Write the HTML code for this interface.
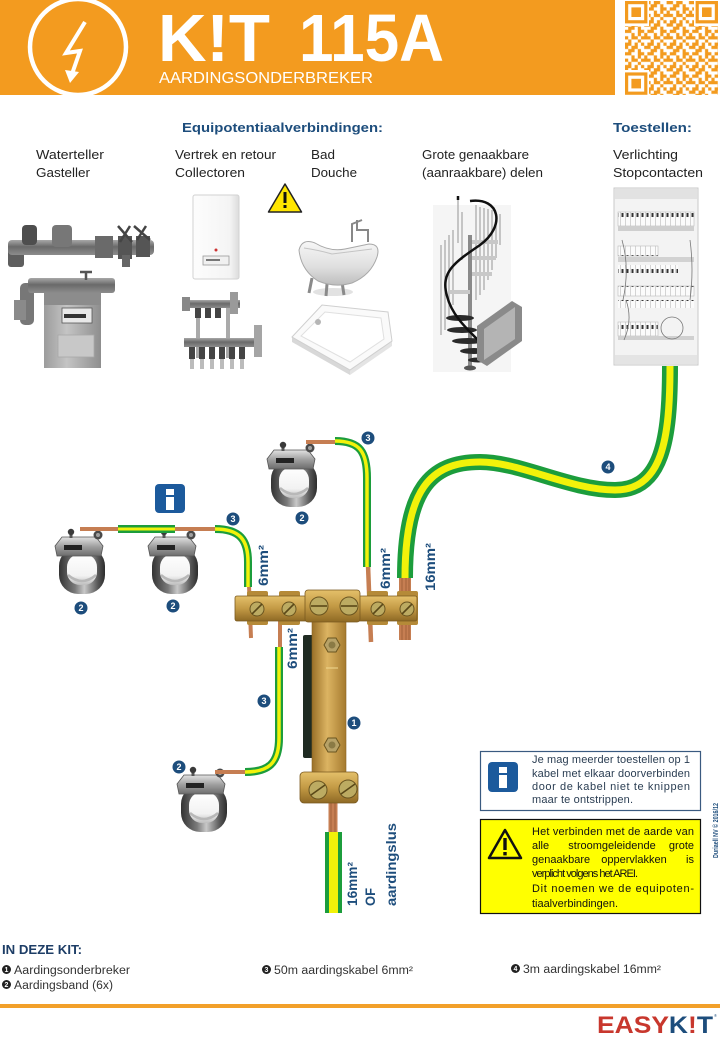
<!DOCTYPE html>
<html><head><meta charset="utf-8">
<style>
html,body{margin:0;padding:0;background:#fff;}
svg{display:block;}
text{font-family:"Liberation Sans",Arial,sans-serif;}
</style></head><body>
<svg width="720" height="1040" viewBox="0 0 720 1040" xmlns="http://www.w3.org/2000/svg">
<defs>
 <linearGradient id="pipeV" x1="0" y1="0" x2="0" y2="1"><stop offset="0" stop-color="#a8a8a8"/><stop offset="0.45" stop-color="#6a6a6a"/><stop offset="1" stop-color="#8c8c8c"/></linearGradient>
 <linearGradient id="gasBody" x1="0" y1="0" x2="1" y2="0"><stop offset="0" stop-color="#9c9c9c"/><stop offset="0.4" stop-color="#c4c4c4"/><stop offset="1" stop-color="#8e8e8e"/></linearGradient>
 <linearGradient id="boilerG" x1="0" y1="0" x2="1" y2="0"><stop offset="0" stop-color="#fdfdfd"/><stop offset="0.8" stop-color="#f4f4f4"/><stop offset="1" stop-color="#dcdcdc"/></linearGradient>
 <linearGradient id="bathG" x1="0" y1="0" x2="0" y2="1"><stop offset="0" stop-color="#f7f7f7"/><stop offset="0.6" stop-color="#dedede"/><stop offset="1" stop-color="#bdbdbd"/></linearGradient>
 <linearGradient id="ringG" x1="0" y1="0" x2="1" y2="0"><stop offset="0" stop-color="#333"/><stop offset="0.35" stop-color="#7a7a7a"/><stop offset="0.55" stop-color="#c8c8c8"/><stop offset="0.85" stop-color="#555"/><stop offset="1" stop-color="#2c2c2c"/></linearGradient>
 <linearGradient id="ringIn" x1="0" y1="0" x2="0" y2="1"><stop offset="0" stop-color="#ffffff"/><stop offset="0.7" stop-color="#f2f2f2"/><stop offset="1" stop-color="#bdbdbd"/></linearGradient>
 <linearGradient id="brG" x1="0" y1="0" x2="0" y2="1"><stop offset="0" stop-color="#e2e2e2"/><stop offset="0.5" stop-color="#a0a0a0"/><stop offset="1" stop-color="#6c6c6c"/></linearGradient>
 <linearGradient id="brassV" x1="0" y1="0" x2="0" y2="1"><stop offset="0" stop-color="#e4c06a"/><stop offset="0.5" stop-color="#c39a45"/><stop offset="1" stop-color="#8e6924"/></linearGradient>
 <linearGradient id="brassH" x1="0" y1="0" x2="1" y2="0"><stop offset="0" stop-color="#9a7028"/><stop offset="0.45" stop-color="#dcb462"/><stop offset="1" stop-color="#a57a2e"/></linearGradient>
 <pattern id="qr" width="7" height="7" patternUnits="userSpaceOnUse" patternTransform="translate(625 1) scale(3.2)">
  <path fill="#F39B1F" d="M0 0h1v1h-1z M2 0h2v1h-2z M6 0h1v1h-1z M1 1h2v1h-2z M4 1h1v1h-1z M0 2h2v1h-2z M4 2h2v1h-2z M2 3h1v1h-1z M4 3h1v1h-1z M6 3h1v1h-1z M0 4h1v1h-1z M2 4h2v1h-2z M5 4h2v1h-2z M1 5h1v1h-1z M4 5h1v1h-1z M0 6h2v1h-2z M3 6h1v1h-1z M5 6h1v1h-1z"/>
 </pattern>
 <pattern id="brk" width="5" height="14" patternUnits="userSpaceOnUse"><rect width="5" height="14" fill="#fbfbfb"/><rect x="1.5" y="3" width="2" height="4" fill="#333"/><rect x="0" y="0" width="0.6" height="14" fill="#bbb"/></pattern>
 <g id="clamp">
  <rect x="4" y="10" width="46" height="47" rx="19" fill="url(#ringG)"/>
  <rect x="12" y="17" width="30" height="31" rx="13" fill="url(#ringIn)"/>
  <path d="M13 38 Q27 50 41 38" stroke="#b8b8b8" stroke-width="2.5" fill="none"/>
  <path d="M0 9 L7 0 L41 0 L48 9 L46 19 L2 19 Z" fill="url(#brG)" stroke="#555" stroke-width="0.8"/>
  <rect x="9" y="8" width="18" height="5" fill="#222"/>
  <rect x="14.5" y="-5" width="3" height="6" fill="#555"/>
  <circle cx="16" cy="-5" r="3.2" fill="#3a3a3a"/>
  <circle cx="43" cy="-2" r="4.5" fill="#4a4a4a"/><circle cx="43" cy="-2" r="2" fill="#a0a0a0"/>
 </g>
</defs>

<!-- HEADER -->
<rect x="0" y="0" width="615" height="95" fill="#F39B1F"/>
<circle cx="78" cy="47" r="48" fill="none" stroke="#fff" stroke-width="4.5"/>
<path d="M85 22 L66 53 L80 51 L72 74" fill="none" stroke="#fff" stroke-width="4" stroke-linejoin="miter"/>
<polygon points="65,70 79,72 70,83" fill="#fff"/>
<text x="158" y="61" font-size="67" font-weight="bold" fill="#fff" textLength="112" lengthAdjust="spacingAndGlyphs">K!T</text>
<text x="299" y="61" font-size="67" font-weight="bold" fill="#fff" textLength="145" lengthAdjust="spacingAndGlyphs">115A</text>
<text x="159" y="83" font-size="15.5" fill="#fff" textLength="214" lengthAdjust="spacingAndGlyphs">AARDINGSONDERBREKER</text>
<!-- QR -->
<rect x="615" y="0" width="105" height="96" fill="#fff"/>
<rect x="625" y="1" width="93" height="94" fill="url(#qr)"/>
<g fill="#fff"><rect x="623" y="0" width="26" height="26"/><rect x="694" y="0" width="26" height="26"/><rect x="623" y="70" width="26" height="26"/></g>
<g fill="none" stroke="#F39B1F" stroke-width="3.2">
 <rect x="626.6" y="2.6" width="19.2" height="19.2"/><rect x="697.2" y="2.6" width="19.2" height="19.2"/><rect x="626.6" y="74" width="19.2" height="19.2"/>
</g>
<g fill="#F39B1F"><rect x="631.4" y="7.4" width="9.6" height="9.6"/><rect x="702" y="7.4" width="9.6" height="9.6"/><rect x="631.4" y="78.8" width="9.6" height="9.6"/></g>

<!-- HEADINGS -->
<text x="182" y="132" font-size="13" font-weight="bold" fill="#1d4d7c" textLength="201" lengthAdjust="spacingAndGlyphs">Equipotentiaalverbindingen:</text>
<text x="613" y="132" font-size="13" font-weight="bold" fill="#1d4d7c" textLength="79" lengthAdjust="spacingAndGlyphs">Toestellen:</text>
<g font-size="13" fill="#222">
 <text x="36" y="159" textLength="68" lengthAdjust="spacingAndGlyphs">Waterteller</text>
 <text x="36" y="177" textLength="54" lengthAdjust="spacingAndGlyphs">Gasteller</text>
 <text x="175" y="159" textLength="101" lengthAdjust="spacingAndGlyphs">Vertrek en retour</text>
 <text x="175" y="177" textLength="70" lengthAdjust="spacingAndGlyphs">Collectoren</text>
 <text x="311" y="159" textLength="24" lengthAdjust="spacingAndGlyphs">Bad</text>
 <text x="311" y="177" textLength="46" lengthAdjust="spacingAndGlyphs">Douche</text>
 <text x="422" y="159" textLength="107" lengthAdjust="spacingAndGlyphs">Grote genaakbare</text>
 <text x="422" y="177" textLength="121" lengthAdjust="spacingAndGlyphs">(aanraakbare) delen</text>
 <text x="613" y="159" textLength="65" lengthAdjust="spacingAndGlyphs">Verlichting</text>
 <text x="613" y="177" textLength="90" lengthAdjust="spacingAndGlyphs">Stopcontacten</text>
</g>

<!-- WATER METER -->
<rect x="8" y="248" width="16" height="19" rx="3" fill="#5e5e5e"/>
<rect x="8" y="240" width="146" height="15" rx="4" fill="url(#pipeV)"/>
<rect x="22" y="225" width="15" height="20" rx="4" fill="#4e4e4e"/>
<rect x="52" y="225" width="20" height="22" rx="4" fill="#777"/>
<rect x="95" y="236" width="18" height="22" fill="#6a6a6a"/>
<rect x="118" y="236" width="14" height="23" fill="#555"/>
<rect x="136" y="236" width="14" height="21" fill="#555"/>
<path d="M118 226 L132 242 M130 226 L120 242 M134 226 L150 240 M146 226 L137 240" stroke="#444" stroke-width="2.5"/>
<rect x="122" y="255" width="8" height="12" fill="#666"/>
<!-- GAS METER -->
<rect x="20" y="283" width="14" height="42" rx="5" fill="#777"/>
<rect x="14" y="300" width="12" height="20" fill="#8a8a8a"/>
<rect x="28" y="278" width="87" height="15" rx="3" fill="url(#pipeV)"/>
<path d="M80 272 L92 272 M86 272 L86 280" stroke="#555" stroke-width="2.5"/>
<rect x="44" y="293" width="57" height="75" fill="url(#gasBody)"/>
<rect x="44" y="293" width="57" height="12" fill="#8c8c8c"/>
<rect x="62" y="308" width="30" height="15" fill="#e8e8e8" stroke="#555" stroke-width="0.8"/>
<rect x="64" y="314" width="22" height="4" fill="#333"/>
<rect x="58" y="335" width="36" height="22" fill="#c8c8c8" stroke="#a8a8a8" stroke-width="0.8"/>
<!-- BOILER -->
<rect x="193" y="195" width="46" height="84" rx="2" fill="url(#boilerG)" stroke="#d2d2d2"/>
<rect x="203" y="256" width="26" height="9" fill="#f0f0f0" stroke="#999" stroke-width="0.8"/>
<rect x="206" y="259" width="14" height="2" fill="#777"/>
<circle cx="216" cy="250" r="1.5" fill="#c33"/>
<!-- WARNING TRIANGLE TOP -->
<polygon points="285,184 268.5,212 301.5,212" fill="#FFE600" stroke="#222" stroke-width="1.5" stroke-linejoin="round"/>
<rect x="283.5" y="192" width="3" height="11" fill="#111"/><rect x="283.5" y="205" width="3" height="3" fill="#111"/>
<!-- MANIFOLD -->
<rect x="196" y="306" width="4" height="52" fill="#aaa"/>
<rect x="226" y="306" width="4" height="52" fill="#aaa"/>
<rect x="184" y="300" width="56" height="8" fill="url(#pipeV)"/>
<rect x="182" y="297" width="8" height="14" fill="#888"/>
<rect x="230" y="292" width="8" height="22" fill="#9a9a9a"/>
<g fill="#444"><rect x="195" y="308" width="6" height="10"/><rect x="205" y="308" width="6" height="10"/><rect x="215" y="308" width="6" height="10"/></g>
<rect x="184" y="338" width="72" height="9" fill="url(#pipeV)"/>
<rect x="254" y="325" width="8" height="32" fill="#a5a5a5"/>
<g fill="#444"><rect x="189" y="347" width="6" height="12"/><rect x="199" y="347" width="6" height="12"/><rect x="209" y="347" width="6" height="12"/><rect x="219" y="347" width="6" height="12"/><rect x="229" y="347" width="6" height="12"/><rect x="239" y="347" width="6" height="12"/></g>
<g fill="#bbb"><rect x="190" y="359" width="4" height="10"/><rect x="200" y="359" width="4" height="10"/><rect x="210" y="359" width="4" height="10"/><rect x="220" y="359" width="4" height="10"/><rect x="230" y="359" width="4" height="10"/><rect x="240" y="359" width="4" height="10"/></g>
<!-- BATH -->
<path d="M352 242 L352 224 L362 220 M357 220 L357 230 L368 230 L368 242" stroke="#888" stroke-width="2" fill="none"/>
<ellipse cx="333" cy="292" rx="20" ry="4" fill="#e2e2e2"/>
<path d="M312 278 L309 293 M342 282 L344 295 M327 284 L326 296" stroke="#8a8a8a" stroke-width="3"/>
<path d="M299 250 Q302 238 315 243 Q330 252 345 249 L369 244 Q381 244 377 257 Q371 275 352 283 Q335 288 318 281 Q301 270 299 250 Z" fill="url(#bathG)" stroke="#a8a8a8"/>
<path d="M304 248 Q318 250 332 254 L372 249" stroke="#c4c4c4" fill="none"/>
<!-- SHOWER TRAY -->
<polygon points="292,337 350,370 350,375 292,342" fill="#d8d8d8"/>
<polygon points="350,370 392,341 392,346 350,375" fill="#e4e4e4"/>
<polygon points="292,337 322,305 388,312 392,341 350,370" fill="#fafafa" stroke="#cfcfcf"/>
<polygon points="301,336 325,312 381,318 384,339 350,362" fill="#fff" stroke="#e0e0e0"/>
<circle cx="318" cy="322" r="3" fill="#b5b5b5"/>
<!-- STAIRCASE -->
<rect x="433" y="205" width="78" height="167" fill="#f5f5f5"/>
<g stroke="#a5a5a5" stroke-width="1.2">
 <line x1="441" y1="245" x2="441" y2="335"/><line x1="445" y1="240" x2="445" y2="330"/><line x1="449" y1="235" x2="449" y2="320"/><line x1="453" y1="230" x2="453" y2="305"/>
 <line x1="458" y1="200" x2="458" y2="243"/><line x1="462" y1="212" x2="462" y2="260"/>
 <line x1="476" y1="205" x2="476" y2="300"/><line x1="480" y1="207" x2="480" y2="295"/><line x1="484" y1="208" x2="484" y2="290"/><line x1="488" y1="209" x2="488" y2="280"/><line x1="492" y1="210" x2="492" y2="270"/><line x1="496" y1="212" x2="496" y2="258"/><line x1="500" y1="214" x2="500" y2="245"/>
</g>
<rect x="468" y="235" width="4" height="132" fill="#8a8a8a"/>
<g fill="#c8c8c8"><rect x="472" y="240" width="26" height="4"/><rect x="472" y="256" width="24" height="4"/><rect x="472" y="272" width="20" height="4"/><rect x="450" y="290" width="20" height="4"/></g>
<g fill="#2a2a2a"><ellipse cx="460" cy="318" rx="14" ry="3"/><ellipse cx="462" cy="330" rx="15" ry="3"/><ellipse cx="468" cy="341" rx="16" ry="3"/><ellipse cx="474" cy="351" rx="14" ry="3"/><ellipse cx="478" cy="360" rx="10" ry="2.5"/></g>
<ellipse cx="470" cy="368" rx="6" ry="2.5" fill="#555"/>
<path d="M458 200 L458 196 M470 201 C500 197 506 226 480 245 C455 262 440 272 447 296 C452 316 468 330 482 344" stroke="#111" stroke-width="2.5" fill="none"/>
<!-- I-BEAM -->
<polygon points="477,326 512,301 522,307 522,341 487,366 477,360" fill="#8a8a8a"/>
<polygon points="484,329 515,307 515,339 484,360" fill="#b4b4b4"/>
<!-- ELECTRICAL PANEL -->
<rect x="614" y="188" width="84" height="177" fill="#f3f3f3" stroke="#c9c9c9"/>
<rect x="615" y="189" width="82" height="10" fill="#e2e2e2"/>
<rect x="618" y="212" width="76" height="14" fill="url(#brk)" stroke="#bbb" stroke-width="0.6"/>
<rect x="618" y="226" width="76" height="5" fill="#cfcfcf"/>
<rect x="618" y="246" width="40" height="10" fill="url(#brk)" stroke="#bbb" stroke-width="0.6"/>
<rect x="618" y="257" width="76" height="5" fill="#d2d2d2"/>
<rect x="618" y="265" width="60" height="8" fill="url(#brk)"/>
<rect x="618" y="286" width="76" height="10" fill="url(#brk)" stroke="#bbb" stroke-width="0.6"/>
<rect x="618" y="300" width="76" height="8" fill="url(#brk)"/>
<rect x="618" y="322" width="40" height="14" fill="url(#brk)" stroke="#bbb" stroke-width="0.6"/>
<rect x="618" y="336" width="76" height="4" fill="#d0d0d0"/>
<circle cx="672" cy="328" r="11" fill="none" stroke="#777" stroke-width="0.8"/>
<path d="M622 240 Q630 268 623 300 M626 300 Q633 320 624 340 M690 240 Q694 270 690 300" stroke="#777" stroke-width="0.8" fill="none"/>
<rect x="615" y="355" width="82" height="9" fill="#e4e4e4"/>

<!-- CLAMPS -->
<use href="#clamp" transform="translate(55 537)"/>
<use href="#clamp" transform="translate(148 537)"/>
<use href="#clamp" transform="translate(267 450)"/>
<use href="#clamp" transform="translate(177 775)"/>

<!-- COPPER WIRES -->
<g stroke="#c67e52" stroke-linecap="butt">
 <line x1="80" y1="529" x2="120" y2="529" stroke-width="4"/>
 <line x1="173" y1="529" x2="217" y2="529" stroke-width="4"/>
 <line x1="306" y1="442" x2="337" y2="442" stroke-width="4"/>
 <line x1="215" y1="772" x2="247" y2="772" stroke-width="4"/>
 <line x1="249" y1="585" x2="251" y2="638" stroke-width="4"/>
 <line x1="280" y1="618" x2="280" y2="650" stroke-width="4"/>
 <line x1="368" y1="565" x2="371" y2="642" stroke-width="4.5"/>
 <line x1="405" y1="574" x2="405" y2="640" stroke-width="12"/>
 <line x1="333" y1="798" x2="333" y2="834" stroke-width="9"/>
</g>
<g stroke="#9a5a34" stroke-width="0.8"><line x1="402" y1="576" x2="402" y2="640"/><line x1="406" y1="576" x2="406" y2="640"/><line x1="409" y1="576" x2="409" y2="640"/><line x1="331" y1="800" x2="331" y2="832"/><line x1="335" y1="800" x2="335" y2="832"/></g>

<!-- GREEN/YELLOW CABLES -->
<g fill="none" stroke-linecap="butt">
 <path d="M670 366 C670 440 662 490 615 490 C570 490 520 462 480 462 C430 462 405 490 405 578" stroke="#1c9d3c" stroke-width="16"/>
 <path d="M670 366 C670 440 662 490 615 490 C570 490 520 462 480 462 C430 462 405 490 405 578" stroke="#f2f20a" stroke-width="7"/>
 <path d="M118 529 L175 529" stroke="#1c9d3c" stroke-width="8"/>
 <path d="M118 529 L175 529" stroke="#f2f20a" stroke-width="3"/>
 <path d="M215 529 C240 529 248 540 248 562 L248 587" stroke="#1c9d3c" stroke-width="8"/>
 <path d="M215 529 C240 529 248 540 248 562 L248 587" stroke="#f2f20a" stroke-width="3.5"/>
 <path d="M335 441 C360 441 367 452 367 478 L367 567" stroke="#1c9d3c" stroke-width="8"/>
 <path d="M335 441 C360 441 367 452 367 478 L367 567" stroke="#f2f20a" stroke-width="3.5"/>
 <path d="M279 647 L279 738 C279 764 268 772 245 772" stroke="#1c9d3c" stroke-width="8"/>
 <path d="M279 647 L279 738 C279 764 268 772 245 772" stroke="#f2f20a" stroke-width="3.5"/>
 <path d="M333.5 832 L333.5 913" stroke="#1c9d3c" stroke-width="17"/>
 <path d="M333.5 832 L333.5 913" stroke="#f2f20a" stroke-width="9"/>
</g>

<!-- AARDINGSONDERBREKER -->
<rect x="303" y="635" width="11" height="123" rx="2" fill="#1f2b22"/>
<rect x="312" y="618" width="34" height="157" fill="url(#brassH)" stroke="#8a6424" stroke-width="0.6"/>
<g fill="#b58a38"><rect x="247" y="591" width="21" height="34" rx="2"/><rect x="279" y="591" width="21" height="34" rx="2"/><rect x="367" y="591" width="21" height="34" rx="2"/><rect x="397" y="591" width="21" height="34" rx="2"/></g>
<rect x="235" y="596" width="182" height="25" rx="2" fill="url(#brassV)" stroke="#7a5a20" stroke-width="0.8"/>
<rect x="305" y="590" width="55" height="32" rx="3" fill="url(#brassV)" stroke="#7a5a20" stroke-width="0.8"/>
<g fill="#bcab62" stroke="#6a5520" stroke-width="1">
 <circle cx="257" cy="609" r="7"/><circle cx="289" cy="609" r="7"/><circle cx="378" cy="609" r="7"/><circle cx="407" cy="609" r="7"/>
 <circle cx="319" cy="606" r="9"/><circle cx="349" cy="606" r="9"/>
</g>
<g stroke="#5a4818" stroke-width="1.6">
 <line x1="252" y1="614" x2="262" y2="604"/><line x1="284" y1="614" x2="294" y2="604"/><line x1="373" y1="614" x2="383" y2="604"/><line x1="402" y1="614" x2="412" y2="604"/>
 <line x1="311" y1="606" x2="327" y2="606"/><line x1="341" y1="606" x2="357" y2="606"/>
</g>
<polygon points="340,645 336,652 328,652 324,645 328,638 336,638" fill="#b7a268" stroke="#6a5520"/>
<circle cx="332" cy="645" r="3.5" fill="#8a7a45"/>
<polygon points="340,745 336,752 328,752 324,745 328,738 336,738" fill="#b7a268" stroke="#6a5520"/>
<circle cx="332" cy="745" r="3.5" fill="#8a7a45"/>
<line x1="326" y1="668" x2="338" y2="668" stroke="#f0d890" stroke-width="1"/>
<rect x="300" y="772" width="58" height="31" rx="4" fill="url(#brassV)" stroke="#7a5a20" stroke-width="0.8"/>
<g fill="#bcab62" stroke="#6a5520" stroke-width="1"><circle cx="318" cy="790" r="9"/><circle cx="348" cy="789" r="9"/></g>
<g stroke="#5a4818" stroke-width="1.6"><line x1="311" y1="795" x2="325" y2="785"/><line x1="341" y1="794" x2="355" y2="784"/></g>

<!-- INFO ICON -->
<rect x="155" y="484" width="30" height="29" rx="4" fill="#1c5a9c"/>
<rect x="166" y="489" width="8" height="6" fill="#fff"/><rect x="166" y="497" width="8" height="13" fill="#fff"/>

<!-- CABLE LABELS -->
<g font-size="14" font-weight="bold" fill="#1d4d7c">
 <text transform="translate(268 586) rotate(-90)" textLength="41" lengthAdjust="spacingAndGlyphs">6mm²</text>
 <text transform="translate(390 589) rotate(-90)" textLength="41" lengthAdjust="spacingAndGlyphs">6mm²</text>
 <text transform="translate(435 591) rotate(-90)" textLength="48" lengthAdjust="spacingAndGlyphs">16mm²</text>
 <text transform="translate(297 669) rotate(-90)" textLength="41" lengthAdjust="spacingAndGlyphs">6mm²</text>
 <text transform="translate(357 906) rotate(-90)" textLength="44" lengthAdjust="spacingAndGlyphs">16mm²</text>
 <text transform="translate(375 906) rotate(-90)" textLength="18" lengthAdjust="spacingAndGlyphs">OF</text>
 <text transform="translate(396 906) rotate(-90)" textLength="83" lengthAdjust="spacingAndGlyphs">aardingslus</text>
</g>

<!-- NUMBER MARKERS -->
<g fill="#1d4d7c">
 <circle cx="368" cy="438" r="6.5"/><circle cx="302" cy="518" r="6.5"/><circle cx="233" cy="519" r="6.5"/>
 <circle cx="81" cy="608" r="6.5"/><circle cx="173" cy="606" r="6.5"/><circle cx="608" cy="467" r="6.5"/>
 <circle cx="354" cy="723" r="6.5"/><circle cx="264" cy="701" r="6.5"/><circle cx="179" cy="767" r="6.5"/>
</g>
<g font-size="9" font-weight="bold" fill="#fff" text-anchor="middle">
 <text x="368" y="441.2">3</text><text x="302" y="521.2">2</text><text x="233" y="522.2">3</text>
 <text x="81" y="611.2">2</text><text x="173" y="609.2">2</text><text x="608" y="470.2">4</text>
 <text x="354" y="726.2">1</text><text x="264" y="704.2">3</text><text x="179" y="770.2">2</text>
</g>

<!-- INFO BOX -->
<rect x="480.5" y="751.5" width="220" height="59" fill="#fff" stroke="#3a5a80" stroke-width="1.2"/>
<rect x="488" y="762" width="30" height="30" rx="4" fill="#1c5a9c"/>
<rect x="499" y="767" width="8" height="6" fill="#fff"/><rect x="499" y="775" width="8" height="13" fill="#fff"/>
<g font-size="11" fill="#2a3d52">
 <text x="532" y="763" textLength="158" lengthAdjust="spacing">Je mag meerder toestellen op 1</text>
 <text x="532" y="777" textLength="158" lengthAdjust="spacing">kabel met elkaar doorverbinden</text>
 <text x="532" y="790" textLength="158" lengthAdjust="spacing">door de kabel niet te knippen</text>
 <text x="532" y="803" textLength="101" lengthAdjust="spacing">maar te ontstrippen.</text>
</g>

<!-- WARNING BOX -->
<rect x="480.5" y="819.5" width="220" height="94" fill="#FFFF00" stroke="#111" stroke-width="1.2"/>
<polygon points="505,830 489,858 521,858" fill="#FFFF00" stroke="#111" stroke-width="2.5" stroke-linejoin="round"/>
<rect x="503.3" y="838" width="3.4" height="12" fill="#111"/><rect x="503.3" y="852" width="3.4" height="3.4" fill="#111"/>
<g font-size="11" fill="#111">
 <text x="532" y="835" textLength="162" lengthAdjust="spacing">Het verbinden met de aarde van</text>
 <text x="532" y="849">alle</text><text x="612" y="849" text-anchor="middle">stroomgeleidende</text><text x="694" y="849" text-anchor="end">grote</text>
 <text x="532" y="863">genaakbare</text><text x="634" y="863" text-anchor="middle">oppervlakken</text><text x="694" y="863" text-anchor="end">is</text>
 <text x="532" y="877" textLength="106" lengthAdjust="spacing">verplicht volgens het AREI.</text>
 <text x="532" y="892" textLength="162" lengthAdjust="spacing">Dit noemen we de equipoten-</text>
 <text x="532" y="907" textLength="86" lengthAdjust="spacing">tiaalverbindingen.</text>
</g>
<text transform="translate(718 858) rotate(-90)" font-size="7.5" font-weight="bold" fill="#1d4d7c" textLength="55" lengthAdjust="spacingAndGlyphs">Duriaell NV © 2016/12</text>

<!-- BOTTOM LIST -->
<text x="2" y="954" font-size="12.5" font-weight="bold" fill="#1d3d66" textLength="80" lengthAdjust="spacingAndGlyphs">IN DEZE  KIT:</text>
<g fill="#222"><circle cx="6.5" cy="969.5" r="4.5"/><circle cx="6.5" cy="984.5" r="4.5"/><circle cx="266.5" cy="969.5" r="4.5"/><circle cx="515.5" cy="968.5" r="4.5"/></g>
<g font-size="7" font-weight="bold" fill="#fff" text-anchor="middle"><text x="6.5" y="972">1</text><text x="6.5" y="987">2</text><text x="266.5" y="972">3</text><text x="515.5" y="971">4</text></g>
<g font-size="11.5" fill="#333">
 <text x="14" y="974" textLength="116" lengthAdjust="spacingAndGlyphs">Aardingsonderbreker</text>
 <text x="14" y="989" textLength="99" lengthAdjust="spacingAndGlyphs">Aardingsband (6x)</text>
 <text x="274" y="974" textLength="139" lengthAdjust="spacingAndGlyphs">50m aardingskabel 6mm²</text>
 <text x="523" y="973" textLength="138" lengthAdjust="spacingAndGlyphs">3m aardingskabel 16mm²</text>
</g>
<rect x="0" y="1004" width="720" height="4" fill="#F2A02A"/>
<text x="597" y="1033" font-size="24" font-weight="bold" textLength="116" lengthAdjust="spacingAndGlyphs"><tspan fill="#c8372d">EASY</tspan><tspan fill="#1d4d7c">K</tspan><tspan fill="#c8372d">!</tspan><tspan fill="#1d4d7c">T</tspan></text>
<text x="714" y="1017" font-size="4" fill="#1d4d7c">®</text>
</svg>
</body></html>
